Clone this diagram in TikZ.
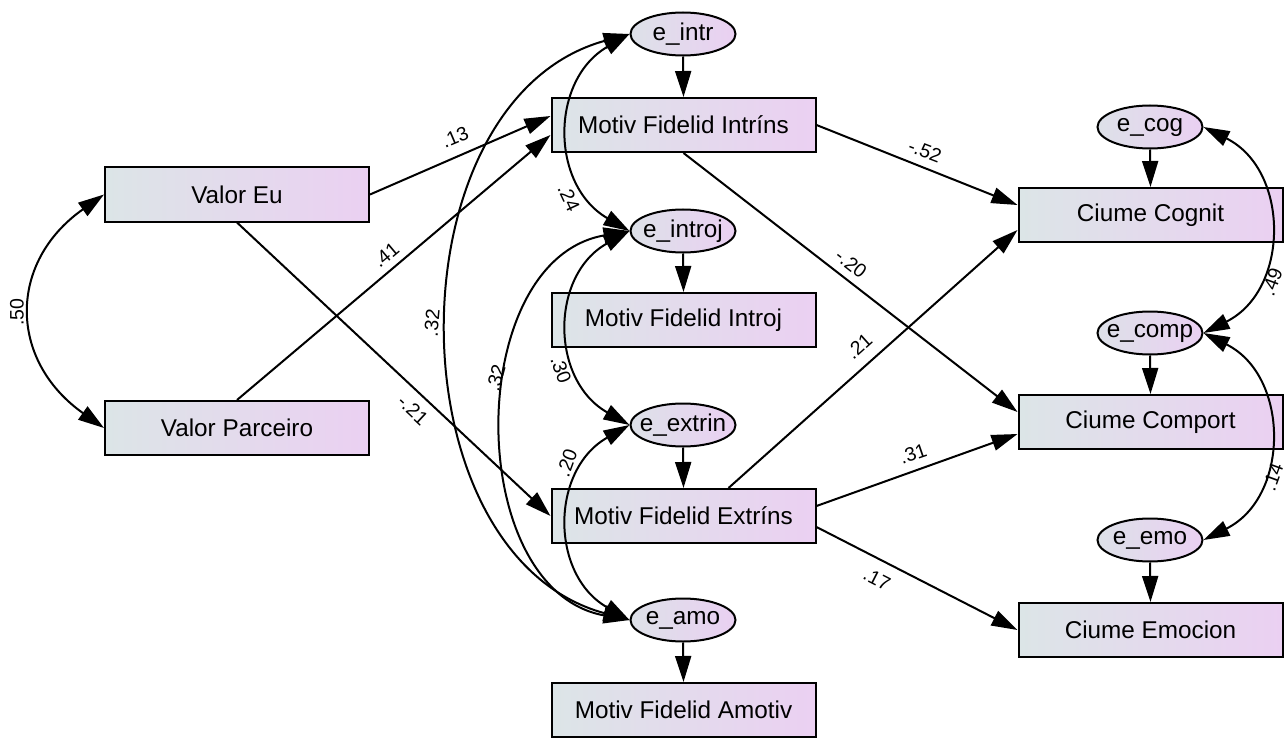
\documentclass[tikz,border=0pt]{standalone}
\usepackage{fontspec}
\setmainfont{Liberation Sans}
\usetikzlibrary{shapes.geometric,arrows.meta}
\definecolor{bL}{HTML}{DCE5E7}
\definecolor{bR}{HTML}{EBD0F2}
\definecolor{eL}{HTML}{DDE1E8}
\definecolor{eR}{HTML}{EAD0F2}
\newcommand{\ztext}[1]{\makebox[0pt]{#1}}
\begin{document}
\begin{tikzpicture}[x=1pt,y=-1pt,
  box/.style={draw,line width=2pt,minimum width=264pt,minimum height=54pt,inner sep=0pt,left color=bL,right color=bR,font=\fontsize{24.3}{27}\selectfont},
  ell/.style={ellipse,draw,line width=2pt,minimum width=105pt,minimum height=43pt,inner sep=0pt,left color=eL,right color=eR,font=\fontsize{24.3}{27}\selectfont},
  arr/.style={line width=2pt,-{Triangle[length=26pt,width=16pt]}},
  cov/.style={line width=2pt,{Triangle[length=26pt,width=16pt]}-{Triangle[length=26pt,width=16pt]}},
  lab/.style={font=\fontsize{19.5}{22}\selectfont,inner sep=0pt}
]
\useasboundingbox (0,0) rectangle (1287,738);
% observed boxes
\node[box] (VE) at (237,194.5) {Valor Eu};
\node[box] (VP) at (237,428) {Valor Parceiro};
\node[box] (MI) at (683.5,125) {Motiv Fidelid Intríns};
\node[box] (MIJ) at (683.5,320) {Motiv Fidelid Introj};
\node[box] (ME) at (683.5,516) {Motiv Fidelid Extríns};
\node[box] (MA) at (683.5,710) {Motiv Fidelid Amotiv};
\node[box] (CC) at (1150.5,215) {Ciume Cognit};
\node[box] (CP) at (1150.5,422) {Ciume Comport};
\node[box] (CE) at (1150.5,630) {Ciume Emocion};
% error terms
\node[ell] (eI) at (683,34) {\ztext{e\_intr}};
\node[ell] (eJ) at (683,231) {\ztext{e\_introj}};
\node[ell] (eX) at (683,425) {\ztext{e\_extrin}};
\node[ell] (eA) at (683,620) {\ztext{e\_amo}};
\node[ell] (eC) at (1150,127) {\ztext{e\_cog}};
\node[ell] (eP) at (1150,333) {\ztext{e\_comp}};
\node[ell] (eM) at (1150,540) {\ztext{e\_emo}};
% error arrows
\draw[arr] (eI.south) -- (MI.north);
\draw[arr] (eJ.south) -- (MIJ.north);
\draw[arr] (eX.south) -- (ME.north);
\draw[arr] (eA.south) -- (MA.north);
\draw[arr] (eC.south) -- (CC.north);
\draw[arr] (eP.south) -- (CP.north);
\draw[arr] (eM.south) -- (CE.north);
% regression paths
\draw[arr] (VE.east) -- ([yshift=9pt]MI.west);
\draw[arr] (VP.north) -- ([yshift=-10pt]MI.west);
\draw[arr] (VE.south) -- (ME.west);
\draw[arr] (MI.east) -- ([yshift=10pt]CC.west);
\draw[arr] (MI.south) -- ([yshift=10pt]CP.west);
\draw[arr] ([xshift=45pt]ME.north) -- ([yshift=-15pt]CC.west);
\draw[arr] ([yshift=10pt]ME.east) -- ([yshift=-12pt]CP.west);
\draw[arr] ([yshift=-11pt]ME.east) -- (CE.west);
% covariances
\draw[cov] (VE.west) .. controls (8,262) and (8,360) .. (VP.west);
\draw[cov] (eI.west) .. controls (550,80) and (550,185) .. (eJ.west);
\draw[cov] (eI.west) .. controls (390,100) and (390,555) .. (eA.west);
\draw[cov] (eJ.west) .. controls (463,260) and (463,590) .. (eA.west);
\draw[cov] (eJ.west) .. controls (550,275) and (550,380) .. (eX.west);
\draw[cov] (eX.west) .. controls (550,470) and (550,575) .. (eA.west);
\draw[cov] (eC.east) .. controls (1290,170) and (1290,290) .. (eP.east);
\draw[cov] (eP.east) .. controls (1290,376) and (1290,497) .. (eM.east);
% labels
\node[lab,rotate=23] (l1) at (455,137) {.13};
\node[lab,rotate=40] (l2) at (386,255) {.41};
\node[lab,rotate=-43] (l3) at (413,410) {-.21};
\node[lab,rotate=-21] (l4) at (925,151) {-.52};
\node[lab,rotate=-38] (l5) at (851,264) {-.20};
\node[lab,rotate=42] (l6) at (859,346) {.21};
\node[lab,rotate=19] (l7) at (913,454) {.31};
\node[lab,rotate=-27] (l8) at (877,579) {.17};
\node[lab,rotate=-65] (l9) at (569,198) {.24};
\node[lab,rotate=85] (l10) at (432,323) {.32};
\node[lab,rotate=75] (l11) at (496,378) {.32};
\node[lab,rotate=-70] (l12) at (561,370) {.30};
\node[lab,rotate=70] (l13) at (567,463) {.20};
\node[lab,rotate=70] (l14) at (1272,282) {.49};
\node[lab,rotate=70] (l15) at (1273,477) {.14};
\node[lab,rotate=90] (l16) at (17,312) {.50};
\end{tikzpicture}
\end{document}
